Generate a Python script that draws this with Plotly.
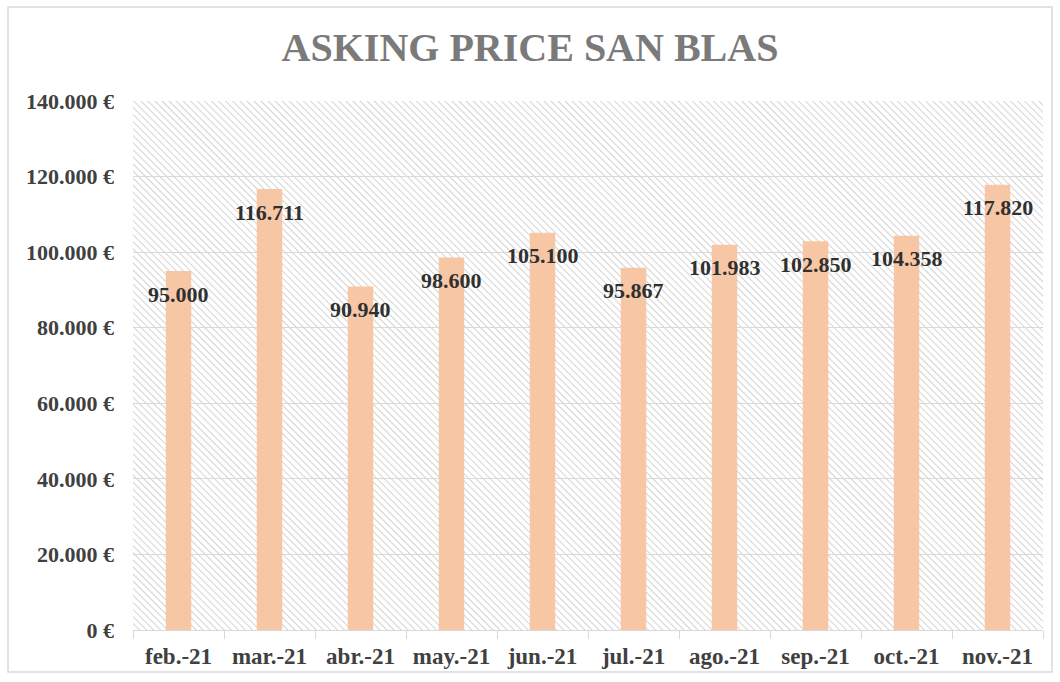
import base64
import plotly.graph_objects as go

categories = ["feb.-21", "mar.-21", "abr.-21", "may.-21", "jun.-21",
              "jul.-21", "ago.-21", "sep.-21", "oct.-21", "nov.-21"]
values = [95000, 116711, 90940, 98600, 105100, 95867, 101983, 102850, 104358, 117820]
value_labels = ["95.000", "116.711", "90.940", "98.600", "105.100",
                "95.867", "101.983", "102.850", "104.358", "117.820"]
y_tick_vals = [0, 20000, 40000, 60000, 80000, 100000, 120000, 140000]
y_tick_text = ["0 €", "20.000 €", "40.000 €", "60.000 €", "80.000 €",
               "100.000 €", "120.000 €", "140.000 €"]

W, H = 1060, 682
ML, MR, MT, MB = 133, 17, 101, 52
PW, PH = W - ML - MR, H - MT - MB

serif = "Liberation Serif, Times New Roman, serif"

# hatched background for plot area
svg = f'''<svg xmlns="http://www.w3.org/2000/svg" width="{PW}" height="{PH}" viewBox="0 0 {PW} {PH}" preserveAspectRatio="none">
<defs><pattern id="h" patternUnits="userSpaceOnUse" width="5" height="5" patternTransform="rotate(-45)">
<rect width="5" height="5" fill="#ffffff"/><line x1="0" y1="0" x2="0" y2="5" stroke="#cccccc" stroke-width="1.7"/></pattern></defs>
<rect width="{PW}" height="{PH}" fill="url(#h)"/></svg>'''
svg_uri = "data:image/svg+xml;base64," + base64.b64encode(svg.encode()).decode()

fig = go.Figure()
fig.add_trace(go.Bar(
    x=categories, y=values, width=0.28,
    marker=dict(color="#F7C6A4", line=dict(width=0)),
    hoverinfo="x+y",
))

for c, v, t in zip(categories, values, value_labels):
    fig.add_annotation(x=c, y=v, text=f"<b>{t}</b>", showarrow=False,
                       yanchor="middle", xanchor="center", yshift=-23,
                       font=dict(family=serif, size=22, color="#303030"))

fig.update_layout(
    width=W, height=H,
    margin=dict(l=ML, r=MR, t=MT, b=MB),
    paper_bgcolor="white",
    plot_bgcolor="rgba(0,0,0,0)",
    showlegend=False,
    bargap=0.72,
    title=dict(text="<b>ASKING PRICE SAN BLAS</b>", x=0.5, xanchor="center",
               y=1 - 47 / H, yanchor="middle",
               font=dict(family=serif, size=40, color="#7a7a7a")),
    images=[dict(source=svg_uri, xref="paper", yref="paper", x=0, y=1,
                 sizex=1, sizey=1, xanchor="left", yanchor="top",
                 sizing="stretch", layer="below")],
    shapes=[dict(type="rect", xref="paper", yref="paper",
                 x0=(8 - ML) / PW, x1=(1052 - ML) / PW,
                 y0=(H - MB - 672) / PH, y1=(H - MB - 7) / PH,
                 line=dict(color="#d9d9d9", width=1.5), fillcolor="rgba(0,0,0,0)",
                 layer="below")],
)

fig.update_yaxes(
    range=[0, 140000], tickvals=y_tick_vals, ticktext=[f"<b>{t}</b>" for t in y_tick_text],
    showgrid=True, gridcolor="#d9d9d9", gridwidth=1.2, zeroline=False,
    showline=False, ticks="", ticklabelstandoff=18,
    tickfont=dict(family=serif, size=22, color="#404040"),
)
fig.update_xaxes(
    tickvals=categories, ticktext=[f"<b>{c}</b>" for c in categories],
    showline=True, linecolor="#d9d9d9", linewidth=1.2,
    ticks="outside", tickson="boundaries", ticklen=8, tickcolor="#d9d9d9",
    showgrid=False, ticklabelstandoff=5,
    tickfont=dict(family=serif, size=23, color="#404040"),
)

fig.write_html("out.html", config={"displayModeBar": False},
               post_script="document.body.style.margin='0';document.body.style.padding='0';")
